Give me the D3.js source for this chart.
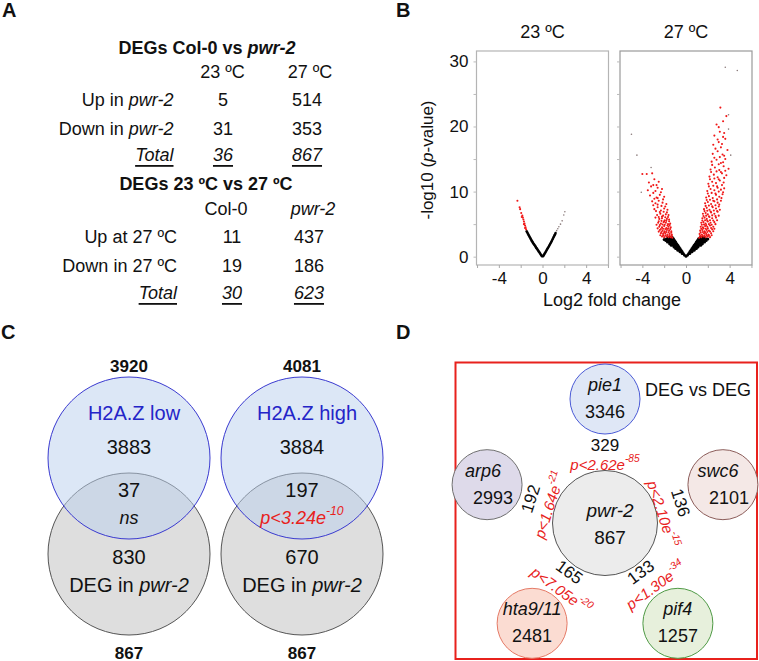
<!DOCTYPE html>
<html><head><meta charset="utf-8">
<script src="https://cdn.jsdelivr.net/npm/d3@7"></script>
<style>
body{margin:0;background:#fff}
svg{display:block}
text{font-family:Arial,"Liberation Sans",sans-serif;fill:#111}
</style>
</head><body>
<svg id="fig" width="759" height="661"></svg>
<script>
// ---------------- DATA ----------------
// Panel A
const tempCols = ["23 ºC", "27 ºC"];
const genoRowLabels = [["Up in ", "pwr-2"], ["Down in ", "pwr-2"]];
const colVsPwrUp = [5, 514];
const colVsPwrDown = [31, 353];
const colVsPwrTotal = [36, 867];
const genoCols = ["Col-0", "pwr-2"];
const tempRowLabels = ["Up at 27 ºC", "Down in 27 ºC"];
const tempUp = [11, 437];
const tempDown = [19, 186];
const tempTotal = [30, 623];

// Panel B (volcano)
const volcanoTitles = ["23 ºC", "27 ºC"];
const xTickVals = [-6, -4, -2, 0, 2, 4, 6];
const xTickLabeled = [-4, 0, 4];
const yTickVals = [0, 5, 10, 15, 20, 25, 30];
const yTickLabeled = [0, 10, 20, 30];
const v23Black = [[-0.05,0.05],[0.05,0.05],[-0.1,0.2],[-0.2,0.45],[-0.3,0.7],[-0.4,0.95],[-0.5,1.2],[-0.6,1.45],[-0.7,1.7],[-0.8,1.95],[-0.9,2.2],[-1.0,2.5],[-1.1,2.8],[-1.2,3.1],[-1.3,3.4],[-1.4,3.75],[-0.25,0.55],[-0.45,1.05],[-0.65,1.6],[-0.85,2.05],[-1.05,2.65],[-1.25,3.25],[-1.45,3.9],[-0.15,0.3],[-0.35,0.8],[-0.55,1.3],[-0.75,1.85],[-0.95,2.35],[-1.15,2.95],[-1.35,3.55],
[0.1,0.2],[0.2,0.5],[0.3,0.75],[0.4,1.05],[0.5,1.35],[0.6,1.65],[0.7,1.95],[0.8,2.25],[0.9,2.6],[1.0,2.95],[1.1,3.3],[1.2,3.65],[0.15,0.35],[0.35,0.9],[0.55,1.5],[0.75,2.1],[0.95,2.75],[1.15,3.45],[0.25,0.6],[0.45,1.2],[0.65,1.8],[0.85,2.4],[1.05,3.1]];
const v23Red = [[-1.5,4.2],[-1.55,4.5],[-1.6,4.8],[-1.65,5.1],[-1.7,5.4],[-1.75,5.7],[-1.8,6.0],[-1.85,6.3],[-1.95,6.7],[-2.05,7.3],[-2.1,7.6],[-2.3,8.6],[-1.6,4.4],[-1.7,5.0],[-1.9,6.1]];
const v23Grey = [[1.3,4.0],[1.4,4.3],[1.5,4.6],[1.65,5.0],[1.8,5.5],[1.95,6.4],[2.05,6.9]];
const v27Black = [[0.15,0.25],[0.25,0.5],[0.35,0.5],[0.35,0.75],[0.45,0.75],[0.55,0.75],[0.45,1.0],[0.6,1.0],[0.75,1.0],[0.55,1.25],[0.7,1.25],[0.85,1.25],[0.95,1.25],[0.65,1.5],[0.8,1.5],[0.95,1.5],[1.1,1.5],[0.75,1.75],[0.9,1.75],[1.05,1.75],[1.2,1.75],[1.35,1.75],[0.85,2.0],[1.0,2.0],[1.15,2.0],[1.3,2.0],[1.5,2.0],[0.95,2.25],[1.1,2.25],[1.25,2.25],[1.4,2.25],[1.55,2.25],[1.7,2.25],[1.05,2.5],[1.2,2.5],[1.35,2.5],[1.5,2.5],[1.65,2.5],[1.85,2.5],[1.15,2.75],[1.3,2.75],[1.45,2.75],[1.6,2.75],[1.8,2.75],[2.0,2.7],[1.3,2.95],[1.5,3.0],[1.7,2.9],
[0.0,0.05],[-0.15,0.25],[-0.25,0.5],[-0.35,0.5],[-0.35,0.75],[-0.45,0.75],[-0.55,0.75],[-0.45,1.0],[-0.6,1.0],[-0.75,1.0],[-0.55,1.25],[-0.7,1.25],[-0.85,1.25],[-0.95,1.25],[-0.65,1.5],[-0.8,1.5],[-0.95,1.5],[-1.1,1.5],[-0.75,1.75],[-0.9,1.75],[-1.05,1.75],[-1.2,1.75],[-1.35,1.75],[-0.85,2.0],[-1.0,2.0],[-1.15,2.0],[-1.3,2.0],[-1.5,2.0],[-0.95,2.25],[-1.1,2.25],[-1.25,2.25],[-1.4,2.25],[-1.55,2.25],[-1.7,2.25],[-1.05,2.5],[-1.2,2.5],[-1.35,2.5],[-1.5,2.5],[-1.65,2.5],[-1.85,2.5],[-1.15,2.75],[-1.3,2.75],[-1.45,2.75],[-1.6,2.75],[-1.8,2.7],[-2.0,2.65],[-1.25,2.95],[-1.45,3.0],[-1.65,2.9]];
const v27Red = [
[-1.25,2.9],[-1.4,3.0],[-1.6,3.0],[-1.8,3.1],[-2.0,3.0],[-2.2,3.1],
[-1.3,3.4],[-1.5,3.5],[-1.7,3.4],[-1.9,3.6],[-2.1,3.5],[-2.3,3.6],
[-1.35,3.9],[-1.55,4.0],[-1.75,4.1],[-1.95,3.9],[-2.15,4.0],[-2.4,4.1],
[-1.4,4.5],[-1.6,4.6],[-1.8,4.4],[-2.0,4.7],[-2.2,4.5],[-2.45,4.6],
[-1.45,5.1],[-1.65,5.0],[-1.85,5.2],[-2.05,5.3],[-2.3,5.1],[-2.55,5.2],
[-1.55,5.7],[-1.75,5.8],[-1.95,5.6],[-2.2,5.9],[-2.45,5.8],
[-1.6,6.4],[-1.85,6.5],[-2.1,6.3],[-2.35,6.6],[-2.65,6.4],
[-1.7,7.2],[-2.0,7.4],[-2.3,7.1],[-2.6,7.6],[-2.9,7.3],
[-1.8,8.1],[-2.15,8.3],[-2.5,8.6],[-2.8,8.2],[-3.1,8.5],
[-2.0,9.2],[-2.4,9.5],[-2.7,9.1],[-3.0,9.8],[-3.3,9.4],
[-2.2,10.4],[-2.6,10.6],[-3.2,10.8],[-3.5,10.2],
[-2.5,11.5],[-2.9,11.9],[-3.4,11.4],[-3.6,12.7],[-3.1,12.8],[-4.0,12.7],
[-1.3,3.2],[-1.5,3.2],[-1.7,3.25],[-1.9,3.3],[-2.1,3.25],[-2.35,3.3],
[-1.35,3.7],[-1.6,3.75],[-1.8,3.8],[-2.0,3.75],[-2.25,3.8],[-2.5,3.85],
[-1.45,4.25],[-1.65,4.3],[-1.9,4.25],[-2.1,4.3],[-2.3,4.25],[-2.6,4.35],
[-1.5,4.85],[-1.7,4.8],[-1.95,4.9],[-2.15,4.95],[-2.4,4.85],[-2.7,4.9],
[-1.55,5.45],[-1.8,5.5],[-2.0,5.45],[-2.25,5.5],[-2.5,5.45],
[-1.65,6.1],[-1.9,6.05],[-2.2,6.15],[-2.5,6.1],[-2.8,6.0],
[-1.75,6.8],[-2.05,6.9],[-2.4,6.85],[-2.75,7.0],
[-1.9,7.7],[-2.25,7.8],[-2.6,8.0],[-3.0,7.9],
[-2.1,8.8],[-2.6,9.0],[-2.9,8.9],[-2.3,9.9],[-2.8,10.1],[-3.0,11.0],[-2.7,11.0],
[1.2,2.9],[1.4,3.0],[1.6,3.1],[1.8,3.0],[2.0,3.1],[2.2,3.0],
[1.25,3.5],[1.45,3.4],[1.65,3.6],[1.85,3.5],[2.05,3.4],[2.3,3.6],
[1.3,4.0],[1.5,4.1],[1.7,3.9],[1.9,4.1],[2.1,4.0],[2.4,4.2],
[1.35,4.6],[1.55,4.5],[1.75,4.7],[1.95,4.6],[2.2,4.8],[2.5,4.6],
[1.4,5.2],[1.6,5.3],[1.8,5.1],[2.0,5.4],[2.25,5.2],[2.6,5.3],
[1.5,5.9],[1.7,6.0],[1.9,5.8],[2.15,6.1],[2.4,5.9],[2.75,6.0],
[1.55,6.6],[1.8,6.7],[2.0,6.5],[2.3,6.8],[2.6,6.6],[2.9,6.9],
[1.65,7.3],[1.9,7.5],[2.15,7.2],[2.45,7.6],[2.75,7.4],[3.0,7.7],
[1.75,8.2],[2.0,8.4],[2.3,8.1],[2.6,8.5],[2.9,8.3],[3.2,8.6],
[1.85,9.1],[2.1,9.3],[2.45,9.0],[2.75,9.5],[3.05,9.2],[3.35,9.6],
[1.95,10.1],[2.25,10.4],[2.6,10.2],[2.9,10.6],[3.2,10.3],[3.5,10.5],
[2.05,11.2],[2.4,11.5],[2.75,11.3],[3.1,11.7],[3.45,11.4],
[2.15,12.3],[2.55,12.6],[2.9,12.2],[3.3,12.8],[3.7,12.5],
[2.25,13.4],[2.65,13.7],[3.05,13.3],[3.45,13.9],[3.9,13.5],
[2.35,14.6],[2.8,14.9],[3.2,14.4],[3.6,15.0],
[2.45,15.8],[2.9,16.2],[3.35,15.7],[3.8,16.4],
[2.5,17.2],[3.0,17.6],[3.3,17.3],[3.6,18.1],
[2.6,18.6],[3.1,19.2],[3.5,19.0],
[2.8,20.3],[3.4,20.8],[3.7,21.6],[3.15,22.9],
[1.3,3.2],[1.5,3.25],[1.7,3.3],[1.9,3.25],[2.1,3.3],[2.35,3.3],
[1.35,3.75],[1.55,3.8],[1.75,3.75],[1.95,3.8],[2.2,3.85],[2.5,3.9],
[1.4,4.3],[1.6,4.35],[1.8,4.3],[2.0,4.35],[2.3,4.4],[2.6,4.3],
[1.45,4.9],[1.65,4.95],[1.85,4.85],[2.1,5.0],[2.35,4.9],[2.7,5.0],
[1.5,5.55],[1.75,5.6],[1.95,5.5],[2.2,5.6],[2.5,5.55],[2.85,5.6],
[1.6,6.25],[1.85,6.3],[2.1,6.2],[2.4,6.35],[2.7,6.25],[3.0,6.3],
[1.7,7.0],[1.95,7.05],[2.25,6.95],[2.55,7.1],[2.85,7.0],[3.1,7.2],
[1.8,7.8],[2.1,7.85],[2.4,7.75],[2.7,7.9],[3.05,8.0],
[1.9,8.7],[2.2,8.75],[2.5,8.6],[2.85,8.8],[3.25,9.0],
[2.0,9.7],[2.35,9.8],[2.7,9.7],[3.0,10.0],[3.4,9.9],
[2.1,10.8],[2.5,10.9],[2.85,10.8],[3.3,11.0],
[2.2,11.9],[2.6,12.0],[3.0,11.9],[3.5,12.1],
[2.3,13.0],[2.8,13.1],[3.2,13.0],[3.6,13.2],
[2.4,14.1],[3.0,14.2],[3.4,14.5],[2.6,15.2],[3.1,15.3],[3.5,15.5],
[2.7,16.6],[3.2,16.8],[2.9,18.0],[3.4,18.4],[3.0,19.9]];
const v27Grey = [[3.6,29.1],[4.7,28.6],[-5.0,18.8],[-4.5,15.6],[-3.2,13.7],[-4.1,9.9],[3.9,19.6],[4.1,15.6],[3.9,21.8]];

// Panel C (Venn)
const vennSetNames = ["H2A.Z low", "H2A.Z high"];
const vennSetTotals = [3920, 4081];
const vennSetOnly = [3883, 3884];
const vennOverlap = [37, 197];
const vennSig = [null, ["3.24", "-10"]];
const vennDegOnly = [830, 670];
const vennDegTotals = [867, 867];

// Panel D (network)
const hubName = "pwr-2";
const hubTotal = 867;
const partnerNames = ["pie1", "swc6", "pif4", "hta9/11", "arp6"];
const partnerTotals = [3346, 2101, 1257, 2481, 2993];
const partnerOverlaps = [329, 136, 133, 165, 192];
const pMantissa = ["2.62", "2.10", "1.30", "7.05", "1.64"];
const pExponent = ["-85", "-15", "-34", "-20", "-21"];
const partnerFills = ["#dfe7f6", "#f4e8e6", "#e7f0dc", "#fbdcd2", "#dedaea"];
const partnerStrokes = ["#4a5ad6", "#8c5d5a", "#4f9a45", "#e57a66", "#707070"];

// ---------------- DRAW ----------------
const svg = d3.select("#fig");
const RED = "#e8211c";

function txt(g, x, y, size, anchor) {
  return g.append("text").attr("x", x).attr("y", y)
    .attr("font-size", size).attr("text-anchor", anchor || "middle")
    .attr("dominant-baseline", "central");
}
function pText(sel, mant, exp, size) {
  sel.append("tspan").text("p<" + mant + "e");
  sel.append("tspan").attr("dy", -size * 0.38).attr("font-size", size * 0.68).text(exp);
}

// Panel letters
[["A", 2, 17], ["B", 396, 17], ["C", 1, 339], ["D", 396, 339]].forEach(([l, x, y]) => {
  svg.append("text").attr("x", x).attr("y", y).attr("font-size", 20)
    .attr("font-weight", "bold").text(l);
});

// ----- Panel A -----
const gA = svg.append("g");
const t1 = txt(gA, 207, 48, 18).attr("font-weight", "bold");
t1.append("tspan").text("DEGs Col-0 vs ");
t1.append("tspan").attr("font-style", "italic").text("pwr-2");
const xA1 = d3.scalePoint().domain([0, 1]).range([223, 307]);
const xA1h = d3.scalePoint().domain(tempCols).range([222.5, 310]);
tempCols.forEach(c => txt(gA, xA1h(c), 72, 18).text(c));
const rowsA1 = [colVsPwrUp, colVsPwrDown, colVsPwrTotal];
const yA1 = [100, 128.5, 155];
rowsA1.forEach((vals, r) => {
  if (r < 2) {
    const t = txt(gA, 173.5, yA1[r], 18, "end");
    t.append("tspan").text(genoRowLabels[r][0]);
    t.append("tspan").attr("font-style", "italic").text(genoRowLabels[r][1]);
  } else {
    txt(gA, 173.5, yA1[r], 18, "end").attr("font-style", "italic")
      .attr("text-decoration", "underline").text("Total");
  }
  vals.forEach((v, i) => {
    const t = txt(gA, xA1(i), yA1[r], 18).text(v);
    if (r === 2) t.attr("font-style", "italic").attr("text-decoration", "underline");
  });
});
txt(gA, 206, 184, 18).attr("font-weight", "bold").text("DEGs 23 ºC vs 27 ºC");
const xA2h = d3.scalePoint().domain(genoCols).range([226, 313]);
genoCols.forEach((c, i) => {
  const t = txt(gA, xA2h(c), 208.5, 18).text(c);
  if (i === 1) t.attr("font-style", "italic");
});
const xA2 = d3.scalePoint().domain([0, 1]).range([232, 309]);
const rowsA2 = [tempUp, tempDown, tempTotal];
const yA2 = [237, 266, 293];
rowsA2.forEach((vals, r) => {
  if (r < 2) txt(gA, 177, yA2[r], 18, "end").text(tempRowLabels[r]);
  else txt(gA, 177, yA2[r], 18, "end").attr("font-style", "italic")
    .attr("text-decoration", "underline").text("Total");
  vals.forEach((v, i) => {
    const t = txt(gA, xA2(i), yA2[r], 18).text(v);
    if (r === 2) t.attr("font-style", "italic").attr("text-decoration", "underline");
  });
});

// ----- Panel B -----
const gB = svg.append("g");
const yV = d3.scaleLinear().domain([-1.28, 31.6]).range([265, 51]);
const panelsX = [[476.5, 608.5], [620, 752]];
const volcData = [[v23Black, v23Red, v23Grey], [v27Black, v27Red, v27Grey]];
panelsX.forEach((rng, p) => {
  const xV = d3.scaleLinear().domain([-6.05, 6.05]).range(rng);
  const g = gB.append("g");
  g.append("rect").attr("x", rng[0]).attr("y", 51).attr("width", rng[1] - rng[0])
    .attr("height", 214).attr("fill", "none")
    .attr("stroke", p === 0 ? "#b4b4b4" : "#9a9a9a").attr("stroke-width", 1.2);
  const ax = d3.axisBottom(xV).tickValues(xTickVals).tickSize(3).tickPadding(4)
    .tickFormat(d => xTickLabeled.includes(d) ? String(d) : "");
  const gx = g.append("g").attr("transform", "translate(0,265)").call(ax);
  gx.select(".domain").remove();
  gx.selectAll("line").attr("stroke", "#aaa");
  gx.selectAll("text").attr("font-size", 17).attr("fill", "#111")
    .attr("font-family", "Arial, 'Liberation Sans', sans-serif");
  const ay = d3.axisLeft(yV).tickValues(yTickVals).tickSize(3).tickPadding(5)
    .tickFormat(d => (p === 0 && yTickLabeled.includes(d)) ? d : "");
  const gy = g.append("g").attr("transform", `translate(${rng[0]},0)`).call(ay);
  gy.select(".domain").remove();
  gy.selectAll("line").attr("stroke", "#bbb");
  gy.selectAll("text").attr("font-size", 17).attr("fill", "#111")
    .attr("font-family", "Arial, 'Liberation Sans', sans-serif");
  const [blk, red, grey] = volcData[p];
  g.append("g").selectAll("circle").data(blk).join("circle")
    .attr("cx", d => xV(d[0])).attr("cy", d => yV(d[1])).attr("r", p === 0 ? 1.25 : 1.5).attr("fill", "#000");
  g.append("g").selectAll("circle").data(red).join("circle")
    .attr("cx", d => xV(d[0])).attr("cy", d => yV(d[1])).attr("r", 1.05).attr("fill", "#f01818");
  g.append("g").selectAll("circle").data(grey).join("circle")
    .attr("cx", d => xV(d[0])).attr("cy", d => yV(d[1])).attr("r", 0.8).attr("fill", "#8a7a7a");
  txt(gB, xV(0), 32, 18).text(volcanoTitles[p]);
});
const yl = gB.append("text").attr("transform", "translate(427,160) rotate(-90)")
  .attr("text-anchor", "middle").attr("dominant-baseline", "central").attr("font-size", 17);
yl.append("tspan").text("-log10 (");
yl.append("tspan").attr("font-style", "italic").text("p");
yl.append("tspan").text("-value)");
txt(gB, 612, 300, 18).text("Log2 fold change");

// ----- Panel C -----
const gC = svg.append("g");
const vennX = d3.scalePoint().domain(vennSetNames).range([129, 302]);
const R = 81;
vennSetNames.forEach((name, i) => {
  const cx = vennX(name);
  gC.append("circle").attr("cx", cx).attr("cy", 554).attr("r", R)
    .attr("fill", "#dedede").attr("stroke", "#555").attr("stroke-width", 1);
  gC.append("circle").attr("cx", cx).attr("cy", 458).attr("r", R)
    .attr("fill", "rgba(185,207,238,0.5)").attr("stroke", "#3a3ad0").attr("stroke-width", 1);
  txt(gC, cx, 366, 17).attr("font-weight", "bold").text(vennSetTotals[i]);
  txt(gC, cx + 5, 413, 20).style("fill", "#2424c8").text(name);
  txt(gC, cx, 447, 20).text(vennSetOnly[i]);
  txt(gC, cx, 490, 20).text(vennOverlap[i]);
  if (vennSig[i] === null) {
    txt(gC, cx, 518, 18).attr("font-style", "italic").text("ns");
  } else {
    const t = txt(gC, cx, 518, 18).attr("font-style", "italic").style("fill", RED);
    pText(t, vennSig[i][0], vennSig[i][1], 18);
  }
  txt(gC, cx, 557, 20).text(vennDegOnly[i]);
  const d = txt(gC, cx, 585, 20);
  d.append("tspan").text("DEG in ");
  d.append("tspan").attr("font-style", "italic").text("pwr-2");
  txt(gC, cx, 653, 17).attr("font-weight", "bold").text(vennDegTotals[i]);
});

// ----- Panel D -----
const gD = svg.append("g");
gD.append("rect").attr("x", 455.5).attr("y", 362.5).attr("width", 301.5).attr("height", 296.5)
  .attr("fill", "none").attr("stroke", "#e8211c").attr("stroke-width", 2);
const hub = [605, 523];
const angle = d3.scalePoint().domain(partnerNames).range([0, 288]);
const pos = (a, r) => { const p = d3.pointRadial(a * Math.PI / 180, r); return [hub[0] + p[0], hub[1] + p[1]]; };
gD.append("circle").attr("cx", hub[0]).attr("cy", hub[1]).attr("r", 52.5)
  .attr("fill", "#ececec").attr("stroke", "#555").attr("stroke-width", 1);
txt(gD, hub[0] + 5, 510, 19).attr("font-style", "italic").text(hubName);
txt(gD, hub[0] + 5, 537, 19).text(hubTotal);
partnerNames.forEach((name, i) => {
  const a = angle(name);
  const c = pos(a, 124);
  gD.append("circle").attr("cx", c[0]).attr("cy", c[1]).attr("r", 35)
    .attr("fill", partnerFills[i]).attr("stroke", partnerStrokes[i]).attr("stroke-width", 1);
  const dx = (name === "arp6") ? -4 : (name === "swc6") ? -5 : 0;
  const dx2 = (name === "arp6") ? 6 : (name === "swc6") ? 6 : 0;
  txt(gD, c[0] + dx, c[1] - 14, 18).attr("font-style", "italic").text(name);
  txt(gD, c[0] + dx2, c[1] + 13, 18).text(partnerTotals[i]);
  const bottom = a > 90 && a < 270;
  const rot = bottom ? a - 180 : (a > 180 ? a - 360 : a);
  const numR = bottom ? 61 : 78;
  const pR = bottom ? 80 : 59;
  const nOff = name === "swc6" ? 3 : 0;
  const pOff = name === "swc6" ? 9 : (bottom ? -3 : 0);
  const np = pos(a + nOff, numR);
  gD.append("text").attr("transform", `translate(${np[0]},${np[1]}) rotate(${rot})`)
    .attr("text-anchor", "middle").attr("dominant-baseline", "central")
    .attr("font-size", 17).text(partnerOverlaps[i]);
  const pp = pos(a + pOff, pR);
  const pt = gD.append("text").attr("transform", `translate(${pp[0]},${pp[1]}) rotate(${rot})`)
    .attr("text-anchor", "middle").attr("dominant-baseline", "central")
    .attr("font-size", 15).attr("font-style", "italic").style("fill", RED);
  pText(pt, pMantissa[i], pExponent[i], 15);
});
txt(gD, 698, 390, 18).text("DEG vs DEG");
</script>
</body></html>
